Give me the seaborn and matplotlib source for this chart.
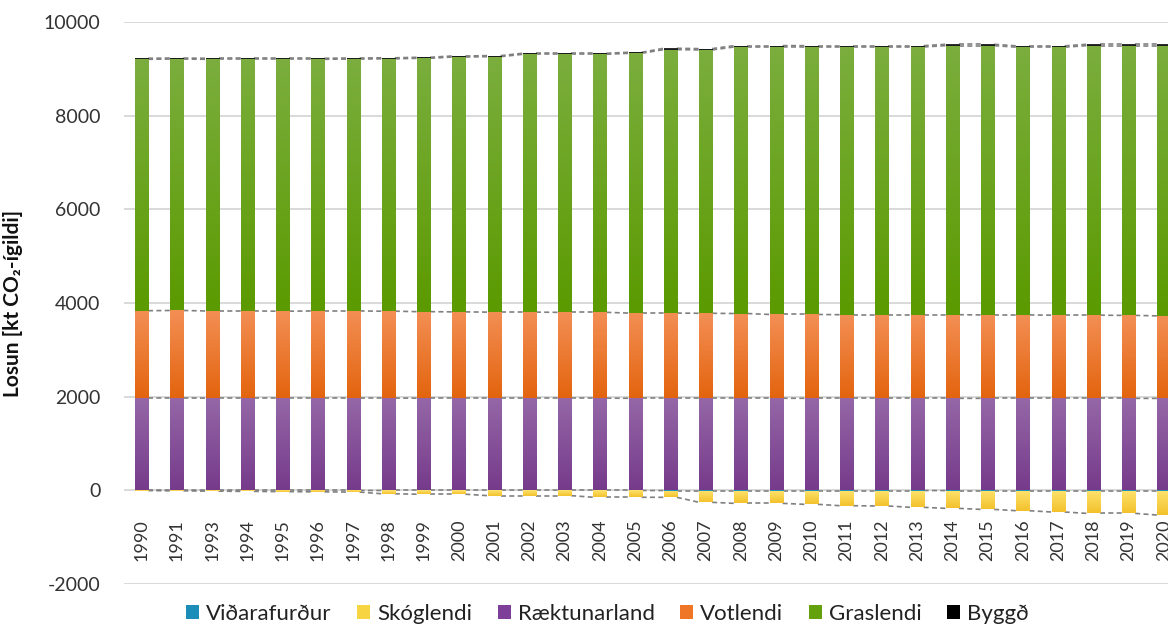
import numpy as np
import matplotlib
matplotlib.use("Agg")
import matplotlib.pyplot as plt
import seaborn as sns
from matplotlib.patches import Patch
from matplotlib.colors import LinearSegmentedColormap

years = ["1990", "1991", "1993", "1994", "1995", "1996", "1997", "1998", "1999", "2000",
         "2001", "2002", "2003", "2004", "2005", "2006", "2007", "2008", "2009", "2010",
         "2011", "2012", "2013", "2014", "2015", "2016", "2017", "2018", "2019", "2020"]

vidarafurdur = [-2, -2, -2, -2, -2, -2, -2, -3, -3, -3, -3, -3, -3, -3, -3, -4, -4, -4, -4, -4,
                -4, -4, -4, -5, -5, -5, -5, -5, -5, -5]
skoglendi = [-3, -8, -15, -20, -25, -30, -35, -70, -80, -80, -110, -110, -110, -145, -145, -145,
             -252, -274, -274, -295, -324, -330, -359, -380, -402, -430, -458, -487, -487, -523]
raektunarland = [1972, 1972, 1970, 1970, 1970, 1970, 1970, 1970, 1968, 1968, 1968, 1968, 1968,
                 1968, 1966, 1966, 1966, 1966, 1966, 1965, 1965, 1965, 1965, 1965, 1964, 1964,
                 1964, 1964, 1964, 1963]
votlendi = [1863, 1868, 1860, 1860, 1855, 1860, 1860, 1855, 1847, 1842, 1837, 1837, 1832, 1832,
            1819, 1819, 1814, 1809, 1789, 1790, 1785, 1785, 1785, 1785, 1781, 1781, 1776, 1776,
            1771, 1762]
graslendi = [5368, 5368, 5373, 5373, 5378, 5373, 5378, 5388, 5409, 5442, 5454, 5505, 5510, 5510,
             5546, 5625, 5623, 5692, 5712, 5711, 5716, 5716, 5716, 5745, 5750, 5717, 5722, 5755,
             5760, 5770]
byggd = [22, 22, 22, 22, 22, 22, 22, 22, 22, 22, 22, 22, 22, 22, 22, 28, 28, 28, 28, 28,
         28, 28, 28, 28, 28, 28, 28, 28, 28, 28]

names = ["Viðarafurður", "Skóglendi", "Ræktunarland", "Votlendi", "Graslendi", "Byggð"]
legend_colors = ["#1b8db8", "#f7d442", "#7e3f98", "#ef7626", "#63a20c", "#000000"]
# (top, bottom) colours of the bar gradients
gradients = [("#2a9fc9", "#177ea4"), ("#fde36e", "#f3c12c"), ("#9568a7", "#763a8b"),
             ("#f38f55", "#e3640e"), ("#7bae3e", "#5b9a00"), ("#3a3a3a", "#111111")]

sns.set_style("white")
plt.rcParams["font.family"] = ["Lato", "DejaVu Sans"]
plt.rcParams["axes.unicode_minus"] = False

fig = plt.figure(figsize=(11.68, 6.35), dpi=100)
ax = fig.add_axes([0.1061, 0.0803, 0.9055, 0.8851])

width = 0.37
vid = np.array(vidarafurdur, dtype=float)
skog = np.array(skoglendi, dtype=float)
raek = np.array(raektunarland, dtype=float)
vot = np.array(votlendi, dtype=float)
gras = np.array(graslendi, dtype=float)
bygg = np.array(byggd, dtype=float)

stack = [
    (vid, np.zeros(len(years))),
    (skog, vid),
    (raek, np.zeros(len(years))),
    (vot, raek),
    (gras, raek + vot),
    (bygg, raek + vot + gras),
]

grad = np.linspace(0, 1, 256).reshape(-1, 1)
bar_sets = []
for (vals, bottom), (top_c, bot_c) in zip(stack, gradients):
    n0 = len(ax.patches)
    sns.barplot(x=years, y=vals, bottom=bottom, width=width, color=bot_c, saturation=1,
                errorbar=None, ax=ax, zorder=3, linewidth=0)
    bars = ax.patches[n0:]
    bar_sets.append(bars)
    cmap = LinearSegmentedColormap.from_list("g", [bot_c, top_c])
    for b in bars:
        h = b.get_height()
        if h == 0:
            continue
        y0 = b.get_y()
        lo, hi = min(y0, y0 + h), max(y0, y0 + h)
        im = ax.imshow(grad, extent=[b.get_x(), b.get_x() + b.get_width(), lo, hi],
                       origin="lower", cmap=cmap, aspect="auto", zorder=3,
                       interpolation="bilinear")
        im.set_clip_path(b)
        b.set_facecolor("none")

# Excel-style series lines between bars
for bars, (vals, bottom) in zip(bar_sets, stack):
    level = bottom + vals
    xs_left = [b.get_x() for b in bars]
    xs_right = [b.get_x() + b.get_width() for b in bars]
    for i in range(len(level) - 1):
        ax.plot([xs_right[i], xs_left[i + 1]], [level[i], level[i + 1]],
                color="#808080", lw=1.2, dashes=(3, 2), zorder=2)

ax.set_xlim(-0.5, len(years) - 0.5)
ax.set_ylim(-2000, 10000)
ax.set_yticks(range(-2000, 10001, 2000))
ax.grid(axis="y", color="#d9d9d9", lw=1.4, zorder=0)
ax.grid(axis="x", visible=False)
for s in ax.spines.values():
    s.set_visible(False)
ax.spines["bottom"].set_position(("data", 0))

ax.tick_params(axis="y", length=0, pad=17, labelsize=14, labelcolor="#333333")
ax.tick_params(axis="x", length=0, pad=21, labelsize=13, labelcolor="#333333", labelrotation=90)
ax.set_xlabel("")
ax.set_ylabel("Losun [kt CO₂-ígildi]", fontsize=15, fontweight="bold", color="#111111")
ax.yaxis.set_label_coords(-0.095, 0.5)

handles = [Patch(facecolor=c, edgecolor="none") for c in legend_colors]
fig.legend(handles, names, loc="lower center", bbox_to_anchor=(0.52, -0.014), ncol=6,
           frameon=False, fontsize=16, handlelength=0.6, handleheight=0.6,
           handletextpad=0.3, columnspacing=1.15, labelcolor="#222222")

fig.savefig("out.png", dpi=100)
